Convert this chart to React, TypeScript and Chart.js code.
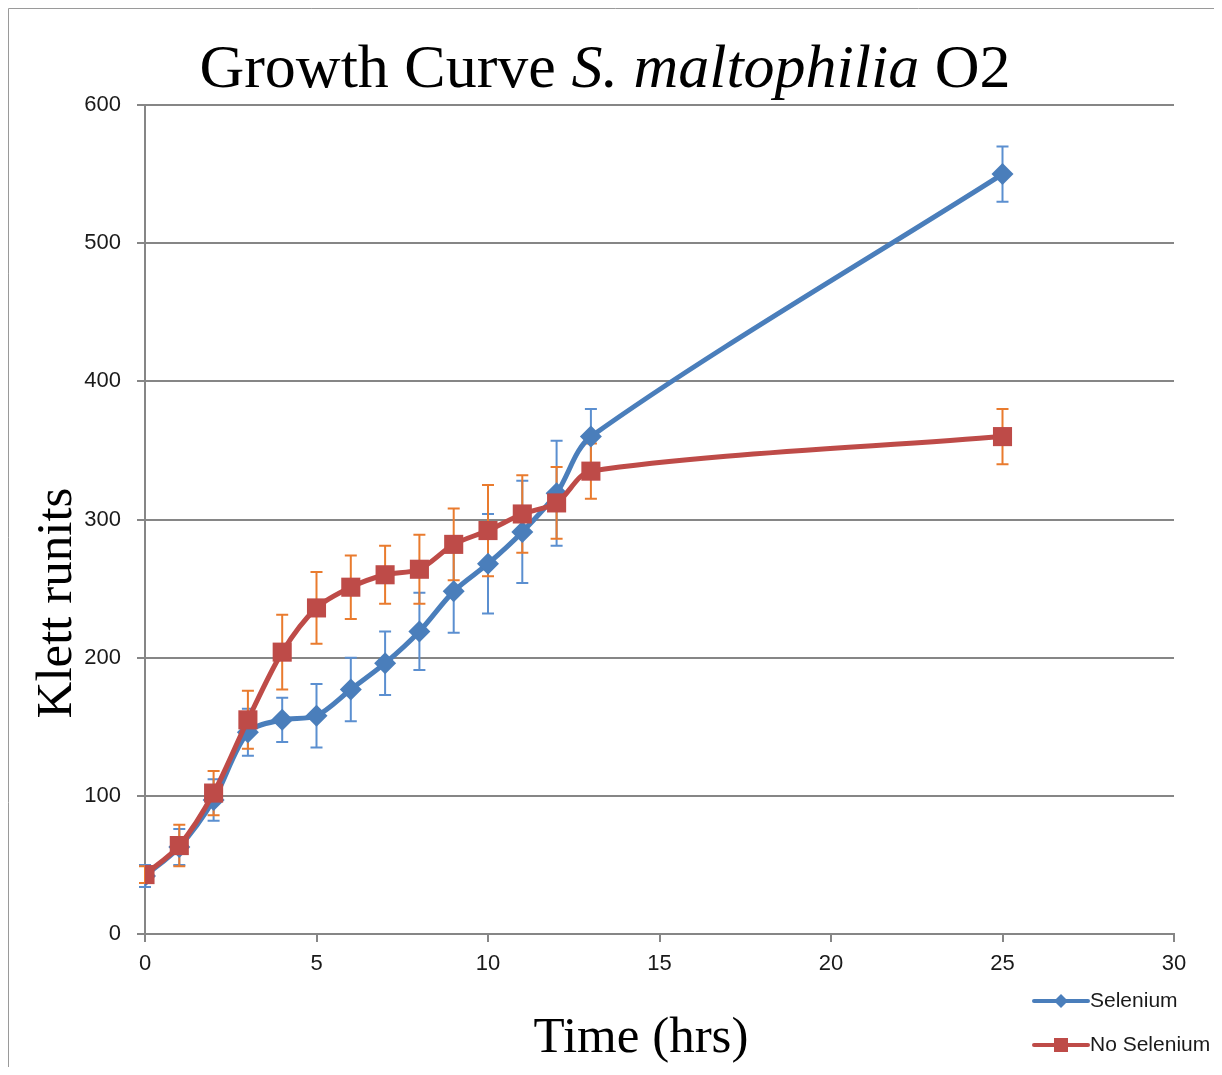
import React, { useEffect, useRef } from "react";
import { Chart, registerables } from "chart.js";

Chart.register(...registerables);

const timeHrs = [0, 1, 2, 3, 4, 5, 6, 7, 8, 9, 10, 11, 12, 13, 25];
const seleniumValues = [42, 63, 97, 146, 155, 158, 177, 196, 219, 248, 268, 291, 319, 360, 550];
const seleniumErrors = [8, 13, 15, 17, 16, 23, 23, 23, 28, 30, 36, 37, 38, 20, 20];
const noSeleniumValues = [43, 64, 102, 155, 204, 236, 251, 260, 264, 282, 292, 304, 312, 335, 360];
const noSeleniumErrors = [6, 15, 16, 21, 27, 26, 23, 21, 25, 26, 33, 28, 26, 20, 20];
const xTicks = [0, 5, 10, 15, 20, 25, 30];
const yTicks = [0, 100, 200, 300, 400, 500, 600];

const seriesNames = ["Selenium", "No Selenium"];
const BLUE = "#4A7EBB";
const RED = "#BE4B48";
const BLUE_ERR = "#5B8FD0";
const ORANGE_ERR = "#E97B2E";
const GRID = "#868686";

const W = 1214;
const H = 1059;

const errorBarPlugin = {
  id: "errorBars",
  beforeDatasetsDraw(chart: any) {
    const ctx = chart.ctx;
    const xs = chart.scales.x;
    const ys = chart.scales.y;
    const sets = [
      { vals: seleniumValues, errs: seleniumErrors, color: BLUE_ERR },
      { vals: noSeleniumValues, errs: noSeleniumErrors, color: ORANGE_ERR },
    ];
    ctx.save();
    ctx.lineWidth = 2;
    sets.forEach((s) => {
      ctx.strokeStyle = s.color;
      timeHrs.forEach((t, i) => {
        const px = xs.getPixelForValue(t);
        const top = ys.getPixelForValue(s.vals[i] + s.errs[i]);
        const bot = ys.getPixelForValue(s.vals[i] - s.errs[i]);
        ctx.beginPath();
        ctx.moveTo(px, top);
        ctx.lineTo(px, bot);
        ctx.moveTo(px - 6, top);
        ctx.lineTo(px + 6, top);
        ctx.moveTo(px - 6, bot);
        ctx.lineTo(px + 6, bot);
        ctx.stroke();
      });
    });
    ctx.restore();
  },
};

const decorPlugin = {
  id: "decor",
  afterDraw(chart: any) {
    const ctx = chart.ctx;
    ctx.save();
    // outer frame (left & top)
    ctx.strokeStyle = "#9a9a9a";
    ctx.lineWidth = 1;
    ctx.beginPath();
    ctx.moveTo(0.5, H);
    ctx.lineTo(0.5, 0.5);
    ctx.lineTo(W, 0.5);
    ctx.stroke();

    // title with italic part
    const parts = [
      { t: "Growth Curve ", f: "62px 'Liberation Serif'" },
      { t: "S. maltophilia", f: "italic 62px 'Liberation Serif'" },
      { t: " O2", f: "62px 'Liberation Serif'" },
    ];
    let total = 0;
    parts.forEach((p) => {
      ctx.font = p.f;
      total += ctx.measureText(p.t).width;
    });
    let x = 597 - total / 2;
    ctx.fillStyle = "#000";
    ctx.textBaseline = "alphabetic";
    ctx.textAlign = "left";
    parts.forEach((p) => {
      ctx.font = p.f;
      ctx.fillText(p.t, x, 79);
      x += ctx.measureText(p.t).width;
    });

    // x axis title
    ctx.font = "51px 'Liberation Serif'";
    ctx.textAlign = "center";
    ctx.fillText("Time (hrs)", 633, 1044);

    // y axis title
    ctx.save();
    ctx.translate(63, 595);
    ctx.rotate(-Math.PI / 2);
    ctx.textAlign = "center";
    ctx.fillText("Klett runits", 0, 0);
    ctx.restore();

    // legend
    const items = [
      { name: seriesNames[0], color: BLUE, style: "diamond", y: 993 },
      { name: seriesNames[1], color: RED, style: "square", y: 1037 },
    ];
    items.forEach((it) => {
      ctx.strokeStyle = it.color;
      ctx.fillStyle = it.color;
      ctx.lineWidth = 4;
      ctx.lineCap = "round";
      ctx.beginPath();
      ctx.moveTo(1026, it.y);
      ctx.lineTo(1080, it.y);
      ctx.stroke();
      const cx = 1053;
      ctx.beginPath();
      if (it.style === "diamond") {
        ctx.moveTo(cx, it.y - 7);
        ctx.lineTo(cx + 7, it.y);
        ctx.lineTo(cx, it.y + 7);
        ctx.lineTo(cx - 7, it.y);
        ctx.closePath();
      } else {
        ctx.rect(cx - 7, it.y - 7, 14, 14);
      }
      ctx.fill();
      ctx.fillStyle = "#1a1a1a";
      ctx.font = "21px 'Liberation Sans'";
      ctx.textAlign = "left";
      ctx.textBaseline = "middle";
      ctx.fillText(it.name, 1082, it.y);
    });
    ctx.restore();
  },
};

export default function App() {
  const ref = useRef<HTMLCanvasElement | null>(null);
  useEffect(() => {
    if (!ref.current) return;
    const chart = new Chart(ref.current, {
      type: "line",
      data: {
        datasets: [
          {
            label: seriesNames[0],
            data: timeHrs.map((t, i) => ({ x: t, y: seleniumValues[i] })),
            borderColor: BLUE,
            backgroundColor: BLUE,
            borderWidth: 5,
            pointStyle: "rectRot",
            pointRadius: 11,
            pointBorderWidth: 0,
            tension: 0.3,
            order: 2,
          },
          {
            label: seriesNames[1],
            data: timeHrs.map((t, i) => ({ x: t, y: noSeleniumValues[i] })),
            borderColor: RED,
            backgroundColor: RED,
            borderWidth: 5,
            pointStyle: "rect",
            pointRadius: 13.5,
            pointBorderWidth: 0,
            tension: 0.3,
            order: 1,
          },
        ],
      },
      options: {
        responsive: false,
        animation: false,
        devicePixelRatio: 1,
        layout: { padding: { top: 97, left: 0, right: 48, bottom: 0 } },
        plugins: {
          legend: { display: false },
          title: { display: false },
          tooltip: { enabled: false },
        },
        scales: {
          x: {
            type: "linear",
            min: 0,
            max: 30,
            afterBuildTicks: (s: any) => {
              s.ticks = xTicks.map((v) => ({ value: v }));
            },
            afterFit: (s: any) => {
              s.height = H - 926;
            },
            ticks: {
              color: "#1a1a1a",
              font: { family: "'Liberation Sans'", size: 22 },
              padding: 9,
              maxRotation: 0,
            },
            grid: {
              drawOnChartArea: false,
              drawTicks: true,
              tickLength: 8,
              color: GRID,
              lineWidth: 2,
            },
            border: { display: true, color: GRID, width: 2 },
          },
          y: {
            type: "linear",
            min: 0,
            max: 600,
            afterBuildTicks: (s: any) => {
              s.ticks = yTicks.map((v) => ({ value: v }));
            },
            afterFit: (s: any) => {
              s.width = 137;
            },
            ticks: {
              color: "#1a1a1a",
              font: { family: "'Liberation Sans'", size: 22 },
              padding: 16,
            },
            grid: {
              drawOnChartArea: true,
              drawTicks: true,
              tickLength: 8,
              color: GRID,
              lineWidth: 2,
            },
            border: { display: true, color: GRID, width: 2 },
          },
        },
      },
      plugins: [errorBarPlugin, decorPlugin],
    } as any);
    return () => chart.destroy();
  }, []);
  return (
    <div style={{ width: W, height: H }}>
      <canvas ref={ref} width={W} height={H} style={{ display: "block", width: W, height: H }} />
    </div>
  );
}
